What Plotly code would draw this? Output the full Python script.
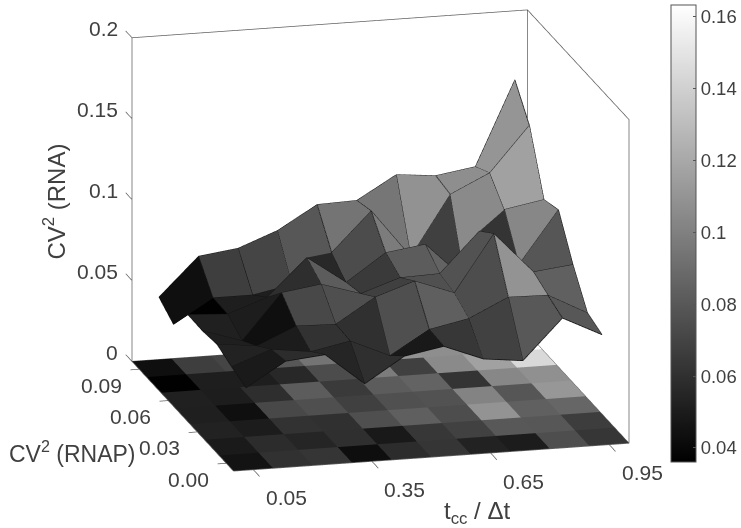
import plotly.graph_objects as go

x_vals = [0.05, 0.15, 0.25, 0.35, 0.45, 0.55, 0.65, 0.75, 0.85, 0.95]
y_vals = [0.0, 0.015, 0.03, 0.045, 0.06, 0.075, 0.09]
row_0 = [.0458, .0605, .0628, .0431, .0584, .0628, .0533, .0505, .0751, .0631]
row_1 = [.0491, .0580, .0549, .0598, .0490, .0635, .0685, .0800, .0795, .0668]
row_2 = [.0533, .0505, .0611, .0604, .0755, .0837, .0747, .1095, .0842, .0870]
row_3 = [.0519, .0440, .0720, .0755, .0680, .0761, .0769, .1014, .0791, .1112]
row_4 = [.0522, .0508, .0594, .0823, .0652, .0819, .0853, .0620, .1034, .1078]
row_5 = [.0366, .0512, .0512, .0560, .0740, .0980, .0680, .1048, .1164, .1440]
row_6 = [.0437, .0672, .0704, .0797, .0940, .0948, .1090, .1067, .1105, .1625]
z_rows = [row_0, row_1, row_2, row_3, row_4, row_5, row_6]

x_ticks = [0.05, 0.35, 0.65, 0.95]
y_ticks = [0.0, 0.03, 0.06, 0.09]
z_ticks = [0, 0.05, 0.1, 0.15, 0.2]
z_tick_labels = ["0", "0.05", "0.1", "0.15", "0.2"]
cbar_ticks = [0.04, 0.06, 0.08, 0.1, 0.12, 0.14, 0.16]
cbar_labels = ["0.04", "0.06", "0.08", "0.1", "0.12", "0.14", "0.16"]

X_BOX = [0.0, 1.0]
Y_BOX = [-0.0075, 0.0975]
Z_BOX = [0.0, 0.2]
X_PAD, Y_PAD, Z_PAD = 0.03, 0.008, 0.002
CMIN, CMAX = 0.0361, 0.1633
GRAY = [[0, "#000000"], [1, "#ffffff"]]
TEXT = "#404040"
FONT = "Liberation Sans"
EDGE = "#111111"
BOX = "#606060"
LIGHT = dict(ambient=1.0, diffuse=0.0, specular=0.0, roughness=1.0, fresnel=0.0)
EYE_LEN = 3.0
SCALE = 1.697
TICK_DX, TICK_DY = 0.022, 0.0065

nx, ny = len(x_vals), len(y_vals)

# Raised surface: each quad takes the value of its rear-left vertex
sx, sy, sz = [], [], []
for j in range(ny):
    for i in range(nx):
        sx.append(x_vals[i]); sy.append(y_vals[j]); sz.append(z_rows[j][i])
si, sj, sk, s_int = [], [], [], []
for j in range(ny - 1):
    for i in range(nx - 1):
        a = j * nx + i
        b, c, d = a + 1, a + nx + 1, a + nx
        si += [a, a]; sj += [b, c]; sk += [c, d]
        s_int += [z_rows[j + 1][i]] * 2

# Floor: one flat cell per value
fx, fy, fi, fj, fk, f_int = [], [], [], [], [], []
for j in range(ny):
    for i in range(nx):
        xa, xb = x_vals[i] - 0.05, x_vals[i] + 0.05
        ya, yb = y_vals[j] - 0.0075, y_vals[j] + 0.0075
        n = len(fx)
        fx += [xa, xb, xb, xa]; fy += [ya, ya, yb, yb]
        fi += [n, n]; fj += [n + 1, n + 2]; fk += [n + 2, n + 3]
        f_int += [z_rows[j][i]] * 2

# Mesh edges
ex, ey, ez = [], [], []
for j in range(ny):
    ex += x_vals + [None]; ey += [y_vals[j]] * nx + [None]; ez += z_rows[j] + [None]
for i in range(nx):
    ex += [x_vals[i]] * ny + [None]; ey += y_vals + [None]
    ez += [z_rows[j][i] for j in range(ny)] + [None]

# Box lines and ticks
x0, x1 = X_BOX; y0, y1 = Y_BOX; z1 = Z_BOX[1]
bx = [x0, x1, x1, x0, x0, None, x0, x0, x1, x1, x1, None, x1, x1, None]
by = [y0, y0, y1, y1, y0, None, y1, y1, y1, y0, y0, None, y1, y1, None]
bz = [0, 0, 0, 0, 0, None, 0, z1, z1, z1, 0, None, z1, 0, None]
for v in x_ticks:
    bx += [v, v, None]; by += [y0, y0 - TICK_DY, None]; bz += [0, 0, None]
for v in y_ticks:
    bx += [x0, x0 - TICK_DX, None]; by += [v, v, None]; bz += [0, 0, None]
for v in z_ticks:
    bx += [x0, x0, None]; by += [y1, y1 + TICK_DY, None]; bz += [v, v, None]

fig = go.Figure()
fig.add_trace(go.Mesh3d(x=fx, y=fy, z=[0] * len(fx), i=fi, j=fj, k=fk, intensity=f_int,
                        intensitymode="cell", colorscale=GRAY, cmin=CMIN, cmax=CMAX,
                        flatshading=True, lighting=LIGHT, hoverinfo="skip", showscale=True,
                        colorbar=dict(x=671 / 741, xanchor="left", y=1 - 462 / 528, yanchor="bottom",
                                      len=457 / 528, lenmode="fraction", thickness=25, thicknessmode="pixels",
                                      xpad=0, ypad=0, outlinecolor="#555555", outlinewidth=1,
                                      ticks="inside", ticklen=3, tickcolor="#555555",
                                      tickvals=cbar_ticks, ticktext=cbar_labels,
                                      tickfont=dict(family=FONT, size=18.5, color=TEXT))))
fig.add_trace(go.Mesh3d(x=sx, y=sy, z=sz, i=si, j=sj, k=sk, intensity=s_int,
                        intensitymode="cell", colorscale=GRAY, cmin=CMIN, cmax=CMAX,
                        flatshading=True, lighting=LIGHT, hoverinfo="skip", showscale=False))
fig.add_trace(go.Scatter3d(x=ex, y=ey, z=ez, mode="lines", line=dict(color=EDGE, width=1.6),
                           hoverinfo="skip", showlegend=False))
fig.add_trace(go.Scatter3d(x=bx, y=by, z=bz, mode="lines", line=dict(color=BOX, width=1.5),
                           hoverinfo="skip", showlegend=False))

ann = []
def label(x, y, z, text, dx, dy, anchor="center", angle=0, size=21):
    ann.append(dict(x=x, y=y, z=z, text=text, showarrow=False, xanchor=anchor, yanchor="middle",
                    xshift=dx, yshift=-dy, textangle=angle,
                    font=dict(family=FONT, size=size, color=TEXT)))

for v in x_ticks:
    label(v, y0, 0, f"{v:.2f}", 33, 28)
for v in y_ticks:
    label(x0, v, 0, f"{v:.2f}", -38, 16)
for v, t in zip(z_ticks, z_tick_labels):
    label(x0, y1, v, t, -12, -9, anchor="right")
label(x0, y1, 0.1, "CV<sup>2</sup> (RNA)", -78, 2, angle=-90, size=24)
label(x0, 0.03, 0, "CV<sup>2</sup> (RNAP)", -125, 20, size=23)
label(0.65, y0, 0, "t<sub>cc</sub> / Δt", -14, 59, size=24)

def axis(box, pad):
    return dict(range=[box[0] - pad, box[1] + pad], autorange=False, visible=False,
                showgrid=False, zeroline=False, showline=False, showbackground=False,
                showspikes=False, ticks="", showticklabels=False)

fig.update_layout(
    width=741, height=528, margin=dict(l=0, r=0, t=0, b=0),
    paper_bgcolor="white", showlegend=False,
    scene=dict(
        domain=dict(x=[0.027, 1.0], y=[0.089, 1.0]),
        aspectmode="manual",
        aspectratio=dict(x=SCALE * (x1 - x0 + 2 * X_PAD) / (x1 - x0),
                         y=1.006 * SCALE * (y1 - y0 + 2 * Y_PAD) / (y1 - y0),
                         z=0.825 * SCALE * (z1 + 2 * Z_PAD) / z1),
        camera=dict(projection=dict(type="orthographic"),
                    eye=dict(x=-0.2378 * EYE_LEN, y=-0.9313 * EYE_LEN, z=0.2758 * EYE_LEN),
                    center=dict(x=0, y=0, z=0), up=dict(x=0, y=0, z=1)),
        xaxis=axis(X_BOX, X_PAD), yaxis=axis(Y_BOX, Y_PAD), zaxis=axis(Z_BOX, Z_PAD),
        annotations=ann,
    ),
)
fig.write_html("out.html", config=dict(displayModeBar=False),
               post_script="document.body.style.margin='0';document.body.style.overflow='hidden';")
